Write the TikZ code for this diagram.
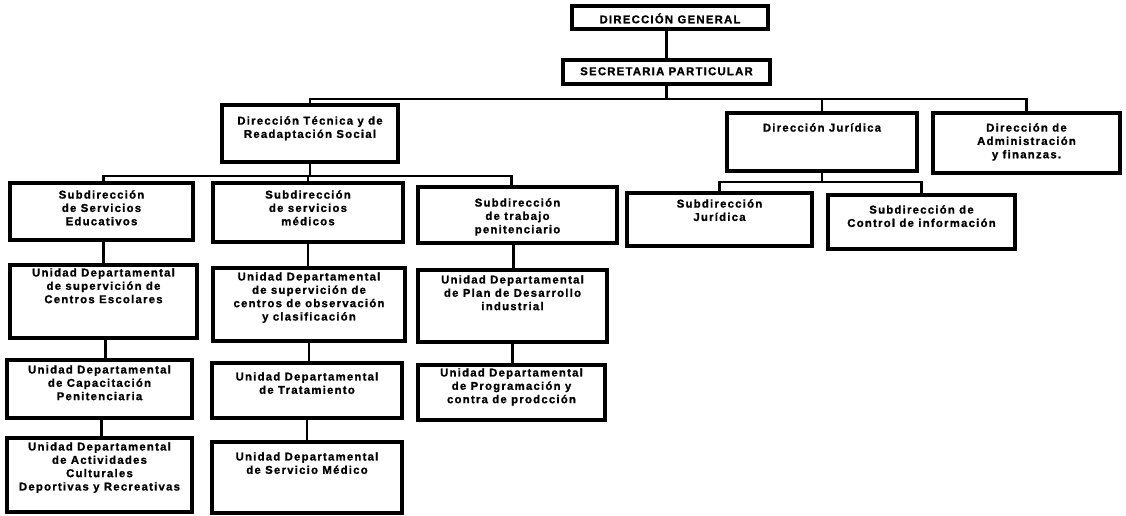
\documentclass[tikz,border=0pt]{standalone}
\usepackage{fontspec}
\newfontfamily\orgfont[LetterSpace=11, BoldFeatures={FakeBold=1.2}]{Liberation Sans}
\usetikzlibrary{calc}
\newcommand{\obox}[7]{%
  \node[box, minimum width={(#4-#2)*0.75pt}, minimum height={(#5-#3)*0.75pt}] (#1) at (#2,#3) {};
  \node[txt] (#1t) at ($(#1.north)+(0,#6)$) {#7};}
\begin{document}
\begin{tikzpicture}[x=0.75pt,y=-0.75pt,
  box/.style={draw, line width=2.6pt, rectangle, inner sep=0pt, outer sep=0pt, anchor=north west},
  txt/.style={font=\orgfont\bfseries\fontsize{8.5}{10}\selectfont, align=center, anchor=north, inner sep=0pt},
  conn/.style={line width=1.7pt}]
\useasboundingbox (0,0) rectangle (1126,515);
% top
\obox{dg}{572}{6}{768}{29}{7}{DIRECCIÓN GENERAL}
\obox{sp}{563}{60}{770}{84}{7}{SECRETARIA PARTICULAR}
% directions
\obox{dt}{222}{105}{398}{162}{11}{Dirección Técnica y de\\Readaptación Social}
\obox{dj}{727}{113}{917}{171}{10}{Dirección Jurídica}
\obox{da}{933}{113}{1120}{173}{10}{Dirección de\\Administración\\y finanzas.}
% subdirections
\obox{sse}{10}{183}{193}{240}{7}{Subdirección\\de Servicios\\Educativos}
\obox{ssm}{213}{183}{403}{242}{7}{Subdirección\\de servicios\\médicos}
\obox{stp}{418}{187}{617}{243}{11}{Subdirección\\de trabajo\\penitenciario}
\obox{sj}{627}{193}{812}{246}{6}{Subdirección\\Jurídica}
\obox{sci}{828}{195}{1015}{249}{10}{Subdirección de\\Control de información}
% units
\obox{uce}{10}{265}{197}{338}{3}{Unidad Departamental\\de supervición de\\Centros Escolares}
\obox{uco}{213}{268}{405}{341}{4}{Unidad Departamental\\de supervición de\\centros de observación\\y clasificación}
\obox{upd}{418}{270}{607}{342}{5}{Unidad Departamental\\de Plan de Desarrollo\\industrial}
\obox{ucp}{7}{360}{192}{418}{5}{Unidad Departamental\\de Capacitación\\Penitenciaria}
\obox{utr}{212}{363}{402}{418}{9}{Unidad Departamental\\de Tratamiento}
\obox{upc}{418}{365}{605}{420}{3}{Unidad Departamental\\de Programación y\\contra de prodcción}
\obox{uac}{7}{438}{192}{512}{4}{Unidad Departamental\\de Actividades\\Culturales\\Deportivas y Recreativas}
\obox{usm}{212}{442}{402}{513}{10}{Unidad Departamental\\de Servicio Médico}
% bus coordinates
\coordinate (b1) at (0,99);
\coordinate (b2) at (0,176);
\coordinate (b3) at (0,182);
% connectors
\draw[conn] (sp.north) -- (sp.north |- dg.south);
\draw[conn] (sp.south) -- (sp.south |- b1);
\draw[conn] (dt.north) |- (da.north |- b1) -- (da.north);
\draw[conn] (dj.north) -- (dj.north |- b1);
\draw[conn] (dt.south) -- (dt.south |- b2);
\draw[conn] ([xshift=1.5pt]sse.north) |- ([xshift=-4.5pt]stp.north |- b2) -- ([xshift=-4.5pt]stp.north);
\draw[conn] (ssm.north) -- (ssm.north |- b2);
\draw[conn] (dj.south) -- (dj.south |- b3);
\draw[conn] (sj.north) |- (sci.north |- b3) -- (sci.north);
\draw[conn] ([xshift=1.5pt]sse.south) -- ([xshift=1.5pt]sse.south |- uce.north);
\draw[conn] ([xshift=1.5pt]uce.south) -- ([xshift=1.5pt]uce.south |- ucp.north);
\draw[conn] ([xshift=1.5pt]ucp.south) -- ([xshift=1.5pt]ucp.south |- uac.north);
\draw[conn] (ssm.south) -- (ssm.south |- uco.north);
\draw[conn] (uco.south) -- (uco.south |- utr.north);
\draw[conn] (utr.south) -- (utr.south |- usm.north);
\draw[conn] ([xshift=-3pt]stp.south) -- ([xshift=-3pt]stp.south |- upd.north);
\draw[conn] (upd.south) -- (upd.south |- upc.north);
\end{tikzpicture}
\end{document}
